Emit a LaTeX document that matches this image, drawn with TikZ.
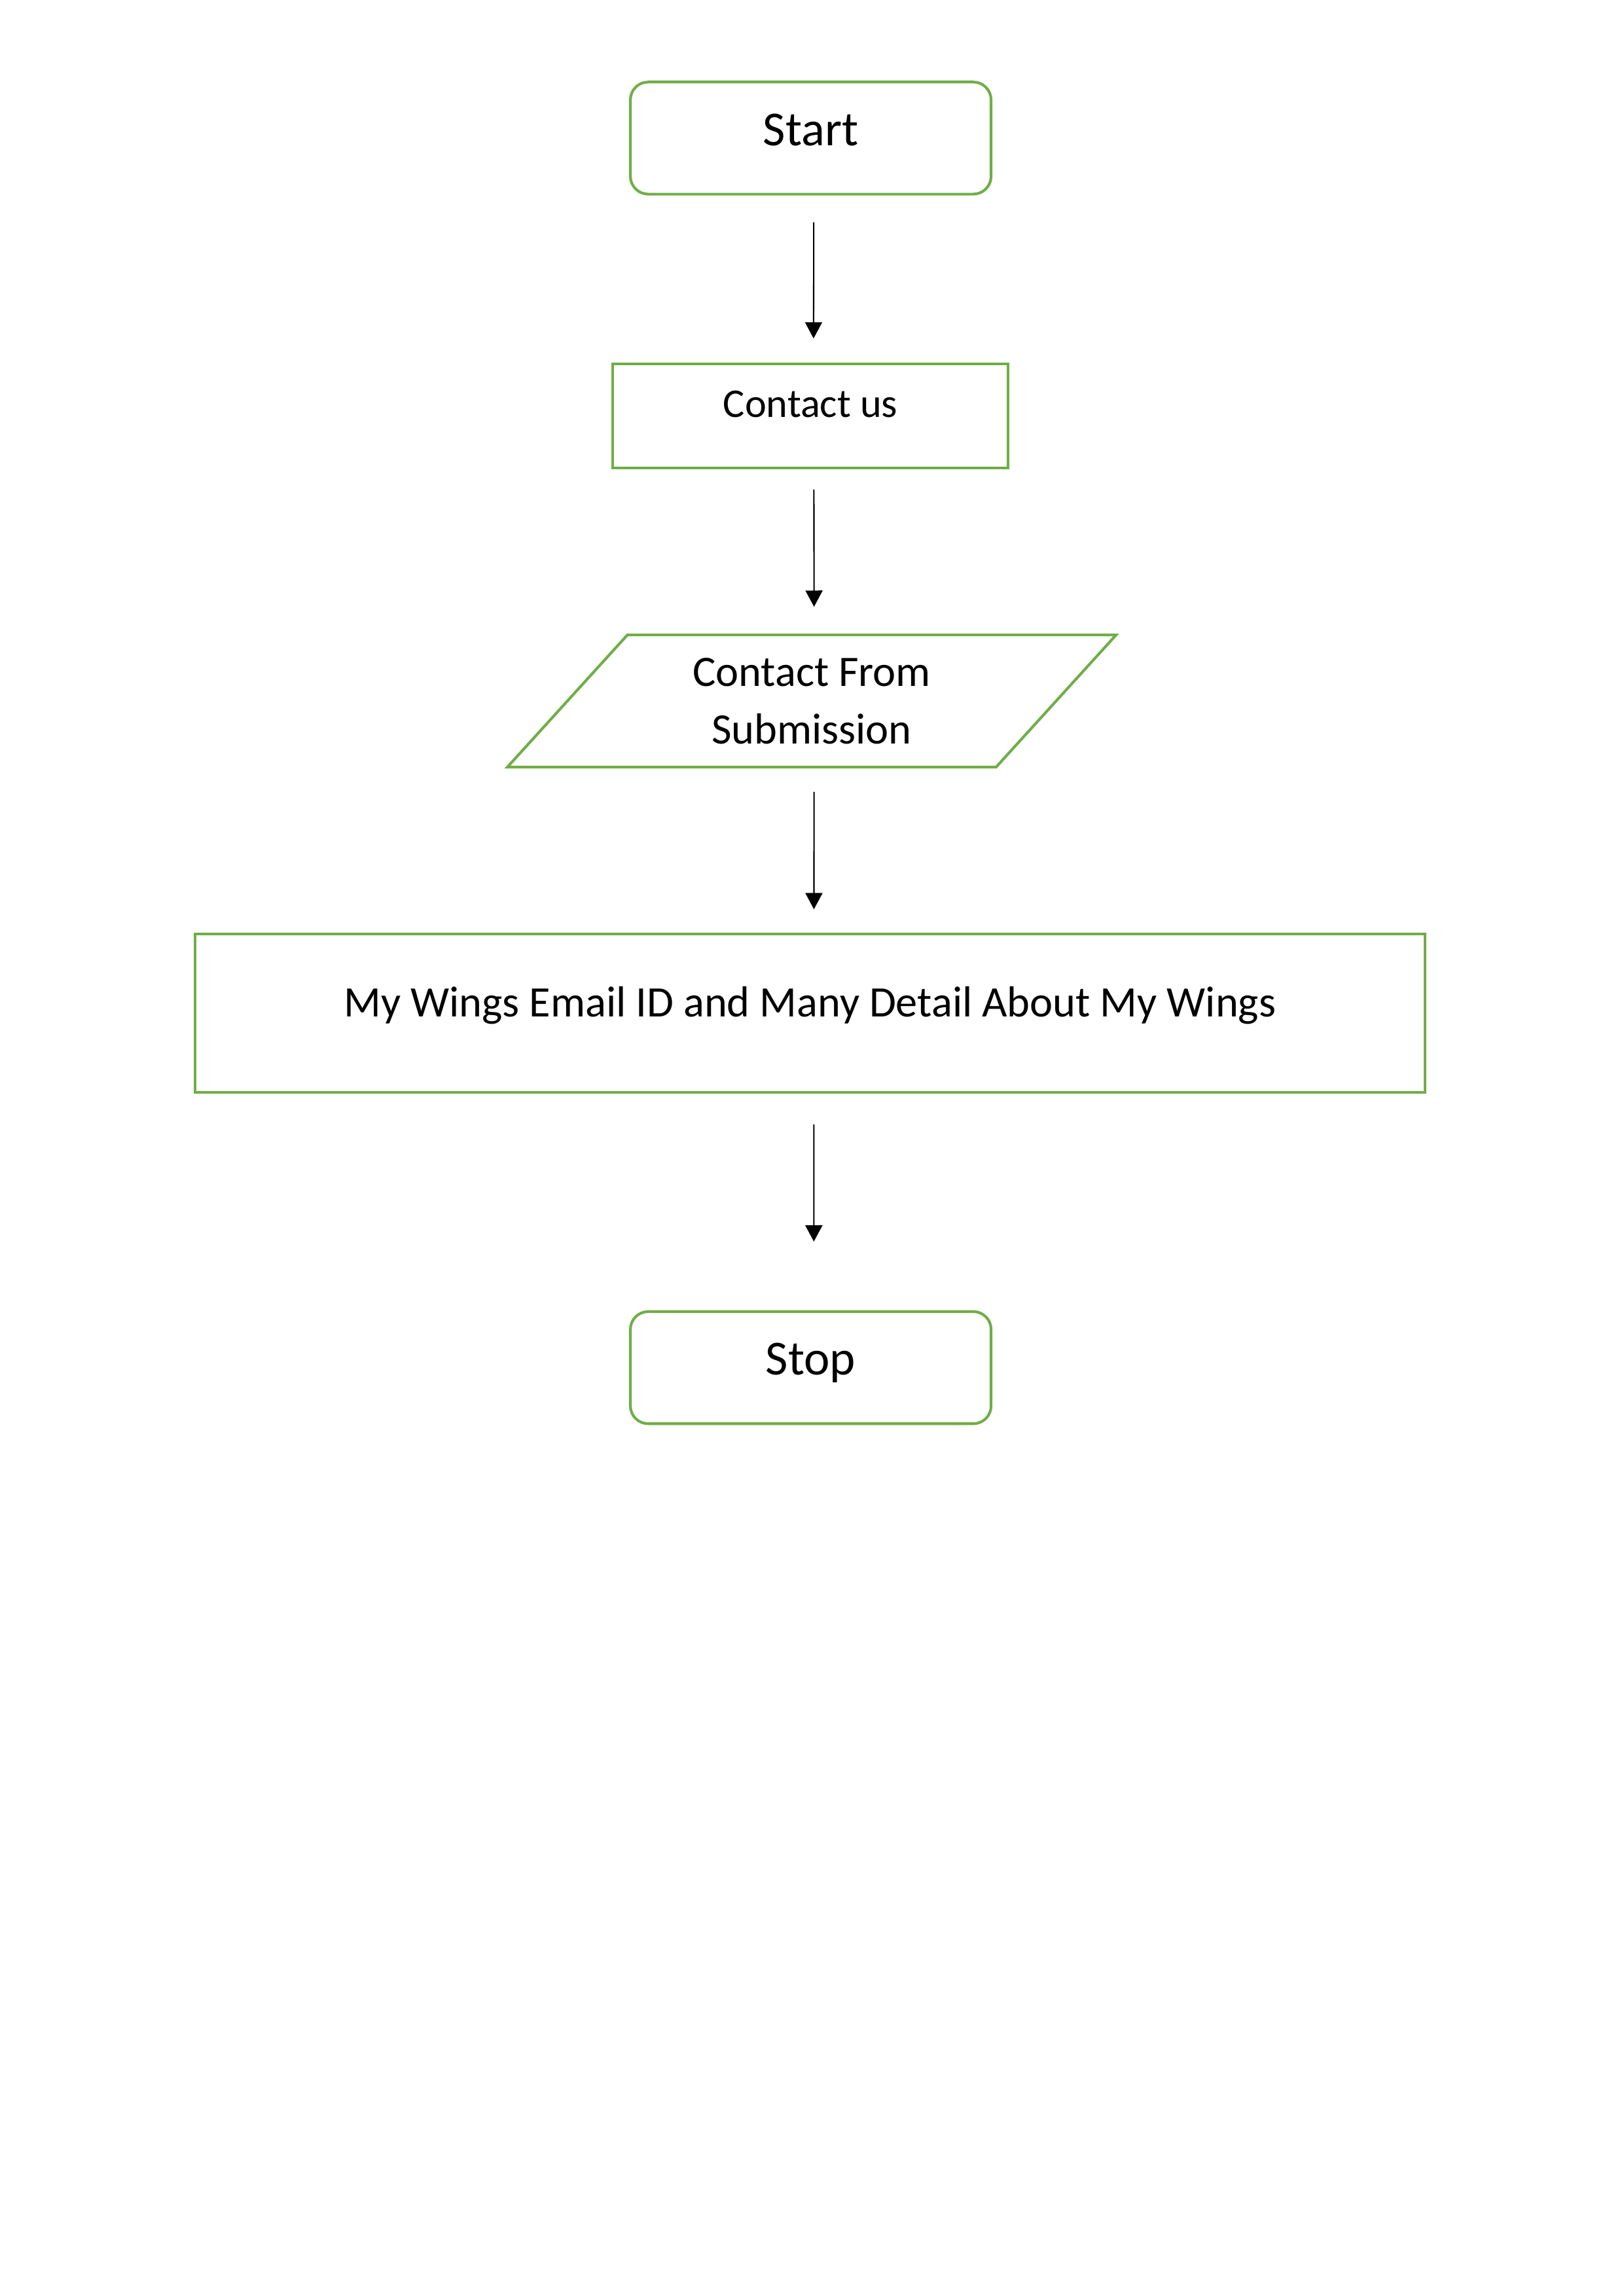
\documentclass[tikz,border=0pt]{standalone}
\usepackage{fontspec}
\setmainfont{Carlito}
\usetikzlibrary{shapes.geometric, arrows.meta}
\definecolor{boxgreen}{HTML}{70AD47}

\begin{document}
\begin{tikzpicture}[
        terminal/.style={draw=boxgreen, line width=1pt, outer sep=0pt, rounded corners=2.3mm,
            minimum width=4.665cm, minimum height=1.45cm,
            font=\fontsize{18}{22}\selectfont, text height=13.5pt, text depth=8.1pt},
        process/.style={draw=boxgreen, line width=1pt, outer sep=0pt,
            font=\fontsize{16}{20}\selectfont, text height=12pt, text depth=9.6pt},
        io/.style={draw=boxgreen, line width=1pt, outer sep=0pt, trapezium,
            trapezium left angle=40.9, trapezium right angle=139.1, trapezium stretches body,
            minimum width=7.874cm, minimum height=1.71cm, align=center,
            font=\fontsize{16}{21.1}\selectfont},
        flow/.style={-{Triangle[length=2.1mm, width=2.2mm]}, line width=0.5pt}
    ]
        \useasboundingbox (0, 0) rectangle (21, -29.7);

        \node[terminal] (start) at (10.486, -1.786) {Start};
        \node[process, minimum width=5.114cm, minimum height=1.346cm,
            font=\fontsize{15}{18}\selectfont, text height=11pt, text depth=10.2pt] (contact) at (10.482, -5.381) {Contact us};
        \node[io] (form) at (10.499, -9.068) {Contact From\\Submission};
        \node[process, minimum width=15.909cm, minimum height=2.049cm] (details) at (10.477, -13.106)
            {My Wings Email ID and Many Detail About My Wings};
        \node[terminal] (stop) at (10.486, -17.691) {Stop};

        \draw[flow, shorten <=0.364cm, shorten >=0.33cm] ([xshift=0.04cm]start.south) -- ([xshift=0.04cm]contact.north);
        \draw[flow, shorten <=0.28cm, shorten >=0.364cm] ([xshift=0.045cm]contact.south) -- ([xshift=0.03cm]form.north);
        \draw[flow, shorten <=0.32cm, shorten >=0.32cm] ([xshift=0.03cm]form.south) -- ([xshift=0.05cm]details.north);
        \draw[flow, shorten <=0.415cm, shorten >=0.906cm] ([xshift=0.05cm]details.south) -- ([xshift=0.04cm]stop.north);
    \end{tikzpicture}
\end{document}
